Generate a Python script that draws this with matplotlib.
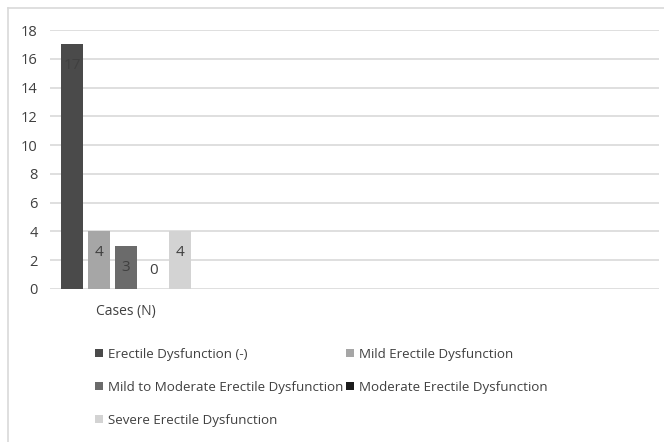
import matplotlib
matplotlib.use("Agg")
import matplotlib.pyplot as plt

categories = ["Cases (N)"]
series = ["Erectile Dysfunction (-)", "Mild Erectile Dysfunction",
          "Mild to Moderate Erectile Dysfunction", "Moderate Erectile Dysfunction",
          "Severe Erectile Dysfunction"]
values = [17, 4, 3, 0, 4]
colors = ["#4a4a4a", "#a6a6a6", "#6b6b6b", "#1c1c1c", "#d3d3d3"]
yticks = [0, 2, 4, 6, 8, 10, 12, 14, 16, 18]

plt.rcParams['font.family'] = ['Open Sans', 'DejaVu Sans']

fig = plt.figure(figsize=(6.64, 4.42), dpi=100)
ax = fig.add_axes([50/664, 153/442, 609/664, 259/442])

pitch = 27/152
width = 22/152
bars = []
for i, (s, v, c) in enumerate(zip(series, values, colors)):
    x = (i - 2) * pitch
    b = ax.bar(x, v, width, color=c, label=s, zorder=3)
    bars.append(b)
    # label inside end; zero bar gets its label just above the axis
    off = -15.5 if v > 0 else 13.5
    ax.annotate(str(v), xy=(x, v), xytext=(0, off),
                textcoords="offset points", ha="center", va="center",
                fontsize=11, color="#404040", zorder=4)

ax.set_xlim(-0.5, 3.5)
ax.set_ylim(0, 18)
ax.set_yticks(yticks)
ax.set_yticklabels([str(t) for t in yticks], fontsize=10.5, color="#404040")
ax.set_xticks([0])
ax.set_xticklabels(categories, fontsize=10, color="#404040")
ax.tick_params(axis="y", length=0, pad=9)
ax.tick_params(axis="x", length=0, pad=11)
ax.grid(axis="y", color="#d9d9d9", linewidth=1.2, zorder=0)
for sp in ax.spines.values():
    sp.set_visible(False)

# Excel fills legend rows first, matplotlib fills columns first
order = [0, 2, 4, 1, 3]
fig.legend(handles=[bars[k] for k in order], loc="upper left",
           bbox_to_anchor=(88/664, 1 - 341/442),
           ncol=2, frameon=False, fontsize=9.6, handlelength=0.6, handleheight=0.6,
           handletextpad=0.4, columnspacing=0.2, labelspacing=1.5, borderpad=0,
           labelcolor="#404040")

fig.add_artist(plt.Line2D([8/664, 1], [1 - 8/442, 1 - 8/442], color="#d9d9d9", linewidth=1.2))
fig.add_artist(plt.Line2D([8/664, 8/664], [0, 1 - 8/442], color="#d9d9d9", linewidth=1.2))

fig.savefig("out.png", dpi=100)
